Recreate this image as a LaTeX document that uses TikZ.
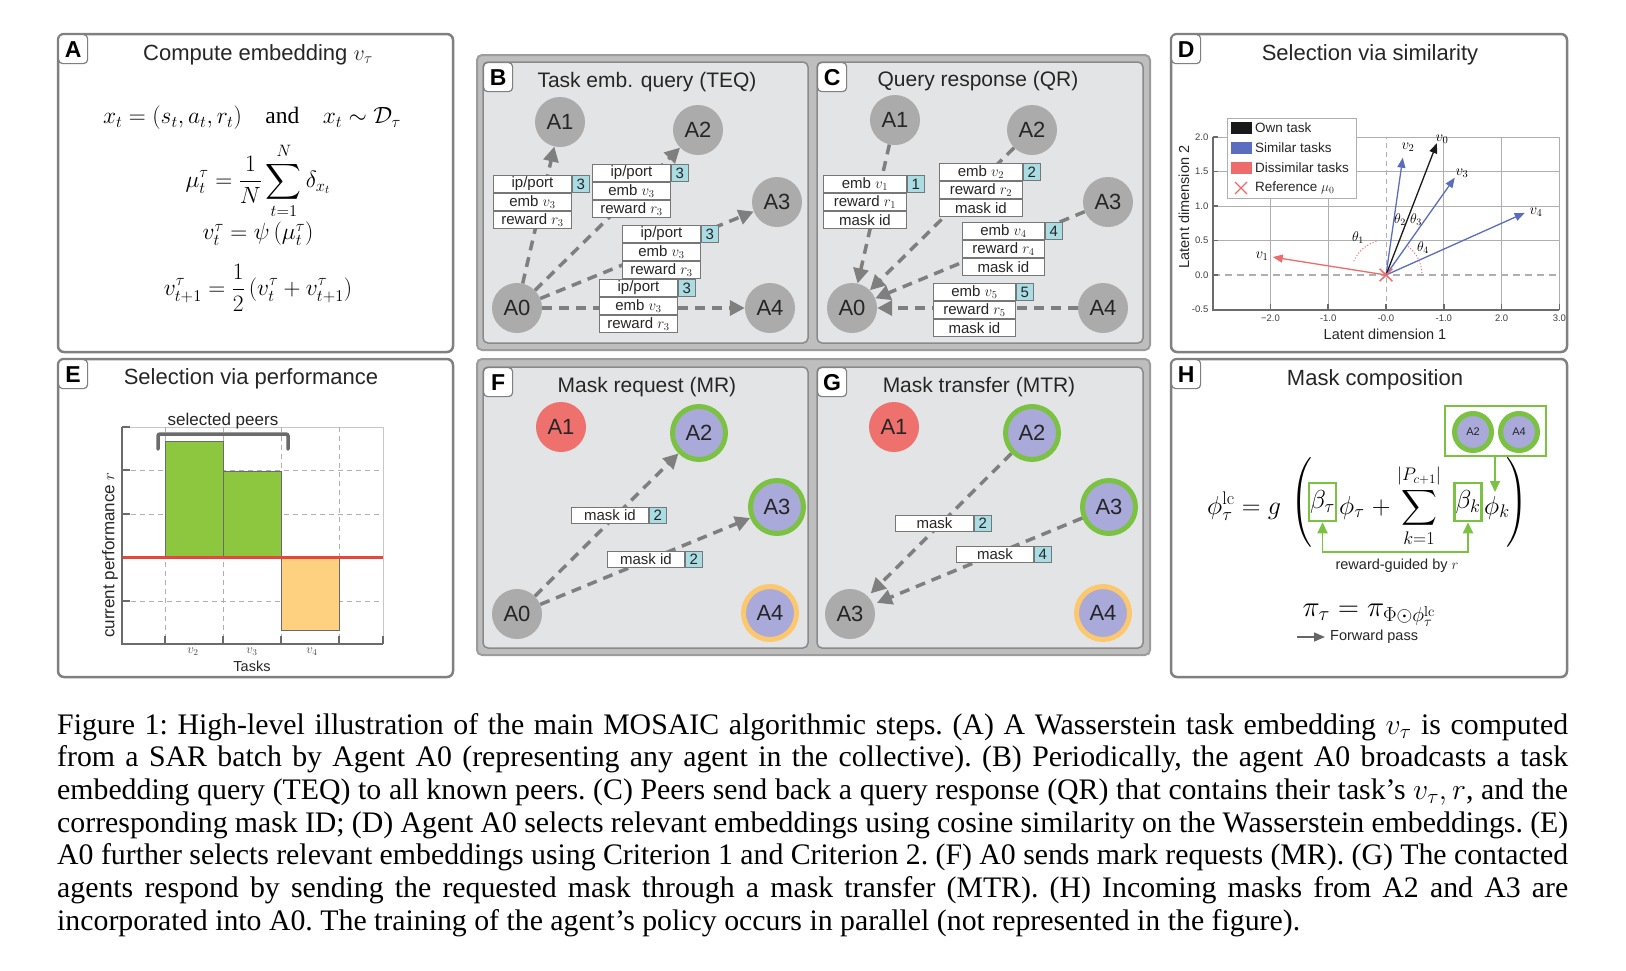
\RequirePackage{fix-cm}
\documentclass[tikz,border=0pt]{standalone}
\usepackage{amsmath}
\usepackage[no-math]{fontspec}
\setmainfont{Liberation Serif}
\setsansfont{Liberation Sans}
\usetikzlibrary{arrows.meta,calc}
\newcommand{\fsz}[1]{\fontsize{#1}{#1}\selectfont}
\definecolor{pborder}{HTML}{808080}
\definecolor{oborder}{HTML}{9C9C9C}
\definecolor{ofill}{HTML}{BEBEBE}
\definecolor{iborder}{HTML}{8A8A8A}
\definecolor{ifill}{HTML}{E3E4E6}
\definecolor{agray}{HTML}{ABABAB}
\definecolor{conn}{HTML}{7F7F7F}
\definecolor{cborder}{HTML}{777777}
\definecolor{idcol}{HTML}{A9DCE3}
\definecolor{lav}{HTML}{A9A9DA}
\definecolor{gring}{HTML}{7CC242}
\definecolor{oring}{HTML}{FCC86E}
\definecolor{redn}{HTML}{EF716D}
\definecolor{barg}{HTML}{8DC63F}
\definecolor{baro}{HTML}{FDD17F}
\definecolor{redline}{HTML}{E5483B}
\definecolor{simblue}{HTML}{5B6DBE}
\definecolor{dissred}{HTML}{EE6B6B}
\definecolor{gridc}{HTML}{AFAFAF}
\definecolor{spinec}{HTML}{6B6B6B}
\tikzset{
 panel/.style={draw=pborder, line width=2.5pt, rounded corners=6pt, fill=white},
 outerframe/.style={draw=oborder, line width=2pt, rounded corners=5pt, fill=ofill},
 inpanel/.style={draw=iborder, line width=1.5pt, rounded corners=5pt, fill=ifill},
 letter/.style={draw=pborder, line width=1.2pt, rounded corners=4pt, fill=white, minimum width=29pt, minimum height=29pt, inner sep=0pt, anchor=north west, font=\sffamily\bfseries\fsz{23}},
 ttl/.style={font=\sffamily\fsz{21}, text=black!85, inner sep=0pt},
 bigttl/.style={font=\sffamily\fsz{22}, text=black!85, inner sep=0pt},
 agent/.style={circle, fill=agray, minimum size=50pt, inner sep=0pt, font=\sffamily\fsz{22}, text=black!85},
 redagent/.style={agent, fill=redn},
 greenagent/.style={agent, fill=lav, draw=gring, line width=5pt, minimum size=53pt},
 orangeagent/.style={agent, fill=lav, draw=oring, line width=5pt, minimum size=53pt},
 smallagent/.style={agent, fill=lav, draw=gring, line width=5pt, minimum size=37pt, font=\sffamily\fsz{11}},
 msg/.style={draw=conn, line width=3.5pt, dash pattern=on 10pt off 7pt, -{Triangle[length=15pt,width=15pt]}},
 cell/.style={draw=cborder, fill=white, line width=0.9pt, minimum height=17pt, inner sep=0pt, anchor=north west, font=\sffamily\fsz{15}, text=black!85},
 idcell/.style={cell, fill=idcol, minimum width=17pt},
 eqA/.style={inner sep=0pt, font=\fsz{23.5}},
 heq/.style={inner sep=0pt, font=\fsz{26}},
 gbox/.style={draw=gring, line width=2.5pt, minimum width=27pt, minimum height=38pt, inner sep=0pt, font=\fsz{26}},
 small/.style={inner sep=0pt, font=\sffamily\fsz{14.5}, text=black!85},
 tick/.style={inner sep=0pt, font=\sffamily\fsz{9.5}, text=black!75},
 leg/.style={inner sep=0pt, anchor=west, font=\sffamily\fsz{13.5}, text=black!85},
 vec/.style={line width=1.3pt, -{Triangle[length=10pt,width=8pt]}},
 capt/.style={anchor=base west, inner sep=0pt, font=\rmfamily\frenchspacing\fsz{29.8}},
}
\newcommand{\threebox}[8]{%
 \node[cell, minimum width=#4pt] (#1a) at (#2,#3) {#5};
 \node[cell, minimum width=#4pt] (#1b) at (#1a.south west) {#6};
 \node[cell, minimum width=#4pt] (#1c) at (#1b.south west) {#7};
 \node[idcell] (#1n) at (#1a.north east) {#8};}
\newcommand{\onebox}[6]{%
 \node[cell, minimum width=#4pt, minimum height=16pt] (#1a) at (#2,#3) {#5};
 \node[idcell, minimum height=16pt] (#1n) at (#1a.north east) {#6};}
\begin{document}
\begin{tikzpicture}[x=1pt,y=-1pt]
\useasboundingbox (0,0) rectangle (1626,970);
\fill[white] (0,0) rectangle (1626,970);

% ---------------- Panel A
\draw[panel] (58,34) rectangle (453,352);
\node[letter] (lA) at (58,34) {A};
\node[bigttl] (tA) at (258,55) {Compute embedding $v_\tau$};
\node[eqA] (eA1) at (252,118) {$x_t = (s_t, a_t, r_t) \quad \text{and} \quad x_t \sim \mathcal{D}_\tau$};
\node[eqA] (eA2) at (258,181) {$\displaystyle \mu_t^\tau = \frac{1}{N}\sum_{t=1}^{N}\delta_{x_t}$};
\node[eqA] (eA3) at (258,234) {$v_t^\tau = \psi\left(\mu_t^\tau\right)$};
\node[eqA] (eA4) at (258,288) {$\displaystyle v_{t+1}^\tau = \frac{1}{2}\left(v_t^\tau + v_{t+1}^\tau\right)$};

% ---------------- Panels B, C
\draw[outerframe] (477,55) rectangle (1150,350);
\draw[inpanel] (483,62) rectangle (808,343);
\draw[inpanel] (817,62) rectangle (1143,343);
\node[letter] (lB) at (483,62) {B};
\node[letter] (lC) at (817,62) {C};
\node[ttl] (tB) at (647,82) {Task emb. query (TEQ)};
\node[ttl] (tC) at (978,81) {Query response (QR)};

\node[agent] (bA1) at (560,122) {A1};
\node[agent] (bA2) at (698,130) {A2};
\node[agent] (bA3) at (777,202) {A3};
\node[agent] (bA4) at (770,308) {A4};
\node[agent] (bA0) at (517,308) {A0};
\draw[msg] (bA0) -- (bA1);
\draw[msg] (bA0) -- (bA2);
\draw[msg] (bA0) -- (bA3);
\draw[msg] (bA0) -- (bA4);
\threebox{bm1}{493}{175}{78}{ip/port}{emb $v_3$}{reward $r_3$}{3}
\threebox{bm2}{592}{164}{78}{ip/port}{emb $v_3$}{reward $r_3$}{3}
\threebox{bm3}{622}{225}{78}{ip/port}{emb $v_3$}{reward $r_3$}{3}
\threebox{bm4}{599}{279}{78}{ip/port}{emb $v_3$}{reward $r_3$}{3}

\node[agent] (cA1) at (895,120) {A1};
\node[agent] (cA2) at (1032,130) {A2};
\node[agent] (cA3) at (1108,202) {A3};
\node[agent] (cA4) at (1103,308) {A4};
\node[agent] (cA0) at (852,308) {A0};
\draw[msg] (cA1) -- (cA0);
\draw[msg] (cA2) -- (cA0);
\draw[msg] (cA3) -- (cA0);
\draw[msg] (cA4) -- (cA0);
\threebox{cm1}{823}{175}{83}{emb $v_1$}{reward $r_1$}{mask id}{1}
\threebox{cm2}{939}{163}{83}{emb $v_2$}{reward $r_2$}{mask id}{2}
\threebox{cm3}{962}{222}{82}{emb $v_4$}{reward $r_4$}{mask id}{4}
\threebox{cm4}{933}{283}{82}{emb $v_5$}{reward $r_5$}{mask id}{5}

% ---------------- Panel D
\draw[panel] (1171,34) rectangle (1567,352);
\node[letter] (lD) at (1171,34) {D};
\node[bigttl] (tD) at (1370,55) {Selection via similarity};
\begin{scope}[shift={(1386,275)}, x=57.8pt, y=69pt]
 \foreach \gx in {-2,-1,1,2,3} \draw[gridc, line width=0.8pt] (\gx,-0.5) -- (\gx,2);
 \foreach \gy in {0.5,1,1.5,2} \draw[gridc, line width=0.8pt] (-3,\gy) -- (3,\gy);
 \draw[gridc, line width=1pt, dash pattern=on 5pt off 4pt] (0,-0.5) -- (0,2);
 \draw[gridc, line width=1.3pt, dash pattern=on 7pt off 5pt] (-3,0) -- (3,0);
 \draw[spinec, line width=2pt] (-3,2) -- (-3,-0.5) -- (3,-0.5);
 \foreach \gx in {-2,-1,0,1,2,3} \draw[spinec, line width=1.5pt] (\gx,-0.5) -- ++(0,0.08);
 \foreach \gy in {-0.5,0,0.5,1,1.5,2} \draw[spinec, line width=1.5pt] (-3,\gy) -- ++(0.09,0);
 \foreach \gx/\gl in {-2/{−2.0},-1/{-1.0},0/{-0.0},1/{-1.0},2/{2.0},3/{3.0}}
   \node[tick] at (\gx,-0.63) {\gl};
 \foreach \gy/\gl in {-0.5/{-0.5},0/{0.0},0.5/{0.5},1/{1.0},1.5/{1.5},2/{2.0}}
   \node[tick, anchor=east] at (-3.07,\gy) {\gl};
 \coordinate (dO) at (0,0);
 \coordinate (dv0) at (0.88,1.91);
 \coordinate (dv2) at (0.29,1.70);
 \coordinate (dv3) at (1.19,1.41);
 \coordinate (dv4) at (2.40,0.90);
 \coordinate (dv1) at (-1.96,0.26);
 \draw[vec, dissred] (dO) -- (dv1);
 \draw[vec, simblue] (dO) -- (dv2);
 \draw[vec, simblue] (dO) -- (dv3);
 \draw[vec, simblue] (dO) -- (dv4);
 \draw[vec, black!90] (dO) -- (dv0);
 \draw[dissred, line width=1.5pt] (-0.11,-0.09) -- (0.11,0.09) (-0.11,0.09) -- (0.11,-0.09);
\end{scope}
\draw[dissred, line width=1pt, dotted] plot[domain=106:160, samples=20] ({1386+35*cos(\x)}, {275-35*sin(\x)});
\draw[dissred, line width=1pt, dotted] plot[domain=3:56, samples=20] ({1386+36*cos(\x)}, {275-36*sin(\x)});
\node[inner sep=0pt, font=\fsz{15}] (lv0) at (1442,139) {$v_0$};
\node[inner sep=0pt, font=\fsz{15}] (lv2) at (1408,147) {$v_2$};
\node[inner sep=0pt, font=\fsz{15}] (lv3) at (1462,173) {$v_3$};
\node[inner sep=0pt, font=\fsz{15}] (lv4) at (1536,212) {$v_4$};
\node[inner sep=0pt, font=\fsz{15}] (lv1) at (1262,256) {$v_1$};
\node[inner sep=0pt, font=\fsz{14}] (th2) at (1400,220) {$\theta_2$};
\node[inner sep=0pt, font=\fsz{14}] (th3) at (1416,220) {$\theta_3$};
\node[inner sep=0pt, font=\fsz{14}] (th1) at (1358,238) {$\theta_1$};
\node[inner sep=0pt, font=\fsz{14}] (th4) at (1423,248) {$\theta_4$};
\draw[draw=gridc, fill=white, line width=0.8pt] (1227,118) rectangle (1356,198);
\fill[black!90] (1231,122) rectangle (1252,134);
\fill[simblue] (1231,142) rectangle (1252,154);
\fill[dissred] (1231,162) rectangle (1252,174);
\draw[dissred, line width=1.3pt] (1235,182) -- (1247,194) (1235,194) -- (1247,182);
\node[leg] (lg1) at (1255,128) {Own task};
\node[leg] (lg2) at (1255,148) {Similar tasks};
\node[leg] (lg3) at (1255,168) {Dissimilar tasks};
\node[leg] (lg4) at (1255,188) {Reference $\mu_0$};
\node[small] (xlD) at (1385,334) {Latent dimension 1};
\node[small, rotate=90] (ylD) at (1184,207) {Latent dimension 2};

% ---------------- Panel E
\draw[panel] (58,359) rectangle (453,677);
\node[letter] (lE) at (58,359) {E};
\node[bigttl] (tE) at (251,379) {Selection via performance};
\draw[gridc!70, line width=0.8pt] (122,427) -- (383,427) -- (383,644);
\foreach \gx in {165,223,281,339} \draw[gridc, line width=0.8pt, dash pattern=on 5pt off 4pt] (\gx,427) -- (\gx,644);
\foreach \gy in {470,514,601} \draw[gridc, line width=0.8pt, dash pattern=on 5pt off 4pt] (122,\gy) -- (383,\gy);
\draw[fill=barg, draw=spinec, line width=1pt] (165,441) rectangle (223,557);
\draw[fill=barg, draw=spinec, line width=1pt] (223,471) rectangle (281,557);
\draw[fill=baro, draw=spinec, line width=1pt] (281,557) rectangle (339,630);
\draw[redline, line width=3pt] (122,557) -- (383,557);
\draw[spinec, line width=2.5pt] (122,427) -- (122,644) -- (383,644);
\foreach \gy in {427,470,514,601} \draw[spinec, line width=2.5pt] (122,\gy) -- (130,\gy);
\foreach \gx in {165,223,281,339,383} \draw[spinec, line width=2.5pt] (\gx,644) -- (\gx,636);
\draw[spinec, line width=3.5pt, line cap=round, rounded corners=2pt] (158,449) -- (158,434) -- (288,434) -- (288,449);
\node[inner sep=0pt, font=\sffamily\fsz{17}, text=black!85] (selp) at (223,421) {selected peers};
\node[inner sep=0pt, font=\fsz{13}, text=black!70] (tv2) at (193,652) {$v_2$};
\node[inner sep=0pt, font=\fsz{13}, text=black!70] (tv3) at (252,652) {$v_3$};
\node[inner sep=0pt, font=\fsz{13}, text=black!70] (tv4) at (312,652) {$v_4$};
\node[small] (xlE) at (252,666) {Tasks};
\node[inner sep=0pt, font=\sffamily\fsz{17}, text=black!85, rotate=90] (ylE) at (110,555) {current performance $r$};

% ---------------- Panels F, G
\draw[outerframe] (477,359) rectangle (1150,655);
\draw[inpanel] (483,367) rectangle (808,648);
\draw[inpanel] (817,367) rectangle (1143,648);
\node[letter] (lF) at (483,367) {F};
\node[letter] (lG) at (817,367) {G};
\node[ttl] (tF) at (647,387) {Mask request (MR)};
\node[ttl] (tG) at (979,387) {Mask transfer (MTR)};

\node[redagent] (fA1) at (561,427) {A1};
\node[greenagent] (fA2) at (699,433) {A2};
\node[greenagent] (fA3) at (777,507) {A3};
\node[orangeagent] (fA4) at (770,613) {A4};
\node[agent] (fA0) at (517,614) {A0};
\draw[msg] (fA0) -- (fA2);
\draw[msg] (fA0) -- (fA3);
\onebox{fm1}{571}{507}{77}{mask id}{2}
\onebox{fm2}{607}{551}{77}{mask id}{2}

\node[redagent] (gA1) at (894,427) {A1};
\node[greenagent] (gA2) at (1032,433) {A2};
\node[greenagent] (gA3) at (1109,507) {A3};
\node[orangeagent] (gA4) at (1103,613) {A4};
\node[agent] (gA0) at (850,614) {A3};
\draw[msg, shorten >=4pt] (gA2) -- (gA0);
\draw[msg, shorten >=4pt] (gA3) -- (gA0);
\onebox{gm1}{895}{515}{78}{mask}{2}
\onebox{gm2}{956}{546}{77}{mask}{4}

% ---------------- Panel H
\draw[panel] (1171,359) rectangle (1567,677);
\node[letter] (lH) at (1171,359) {H};
\node[bigttl] (tH) at (1375,380) {Mask composition};
\draw[gring, line width=1.5pt] (1445,406) rectangle (1546,456);
\node[smallagent] (hA2) at (1473,432) {A2};
\node[smallagent] (hA4) at (1519,432) {A4};
\coordinate (hrb) at (1495,456);
\coordinate (hpk) at (1495,492);
\draw[gring, line width=1.5pt, -{Triangle[length=11pt,width=10pt]}] (hrb) -- (hpk);
\node[heq, anchor=base west] (hl) at (1207,514) {$\phi_\tau^{\mathrm{lc}} = g$};
\node[heq] (hlp) at (1302,503) {$\left(\vrule height 40pt depth 40pt width 0pt\right.$};
\node[gbox] (bt) at (1322.5,502) {$\beta_\tau$};
\node[heq, anchor=base west] (hpt) at (1339,514) {$\phi_\tau \;{+}$};
\node[heq, anchor=base] (hsum) at (1419,514) {$\displaystyle\sum_{k=1}^{|P_{c+1}|}$};
\node[gbox] (bk) at (1468,502) {$\beta_k$};
\node[heq, anchor=base west] (hphik) at (1484,514) {$\phi_k$};
\node[heq] (hrp) at (1517,503) {$\left.\vrule height 40pt depth 40pt width 0pt\right)$};
\coordinate (hrw) at (1395,552);
\draw[gring, line width=1.8pt, {Triangle[length=11pt,width=10pt]}-{Triangle[length=11pt,width=10pt]}] (bt.south) -- (bt.south |- hrw) -- (bk.south |- hrw) -- (bk.south);
\node[small] (hrg) at (1397,566) {reward-guided by $r$};
\node[heq, anchor=base, font=\fsz{29}] (hpi) at (1369,616) {$\pi_\tau = \pi_{\Phi\odot\phi_\tau^{\mathrm{lc}}}$};
\coordinate (hfw) at (1297,637);
\node[small, anchor=west] (hfp) at (1330,637) {Forward pass};
\draw[black!60, line width=1.5pt, -{Triangle[length=11pt,width=9pt]}] (hfw) -- ([xshift=-5pt]hfp.west);

% ---------------- Caption
\node[capt] (cap1) at (57,734) {\makebox[1511pt][s]{Figure 1: High-level illustration of the main MOSAIC algorithmic steps. (A) A Wasserstein task embedding $v_\tau$ is computed}};
\node[capt] (cap2) at (57,766.7) {\makebox[1511pt][s]{from a SAR batch by Agent A0 (representing any agent in the collective). (B) Periodically, the agent A0 broadcasts a task}};
\node[capt] (cap3) at (57,799.4) {\makebox[1511pt][s]{embedding query (TEQ) to all known peers. (C) Peers send back a query response (QR) that contains their task’s $v_\tau, r$, and the}};
\node[capt] (cap4) at (57,832.1) {\makebox[1511pt][s]{corresponding mask ID; (D) Agent A0 selects relevant embeddings using cosine similarity on the Wasserstein embeddings. (E)}};
\node[capt] (cap5) at (57,864.8) {\makebox[1511pt][s]{A0 further selects relevant embeddings using Criterion 1 and Criterion 2. (F) A0 sends mark requests (MR). (G) The contacted}};
\node[capt] (cap6) at (57,897.5) {\makebox[1511pt][s]{agents respond by sending the requested mask through a mask transfer (MTR). (H) Incoming masks from A2 and A3 are}};
\node[capt] (cap7) at (57,930.2) {incorporated into A0. The training of the agent’s policy occurs in parallel (not represented in the figure).};
\end{tikzpicture}
\end{document}
